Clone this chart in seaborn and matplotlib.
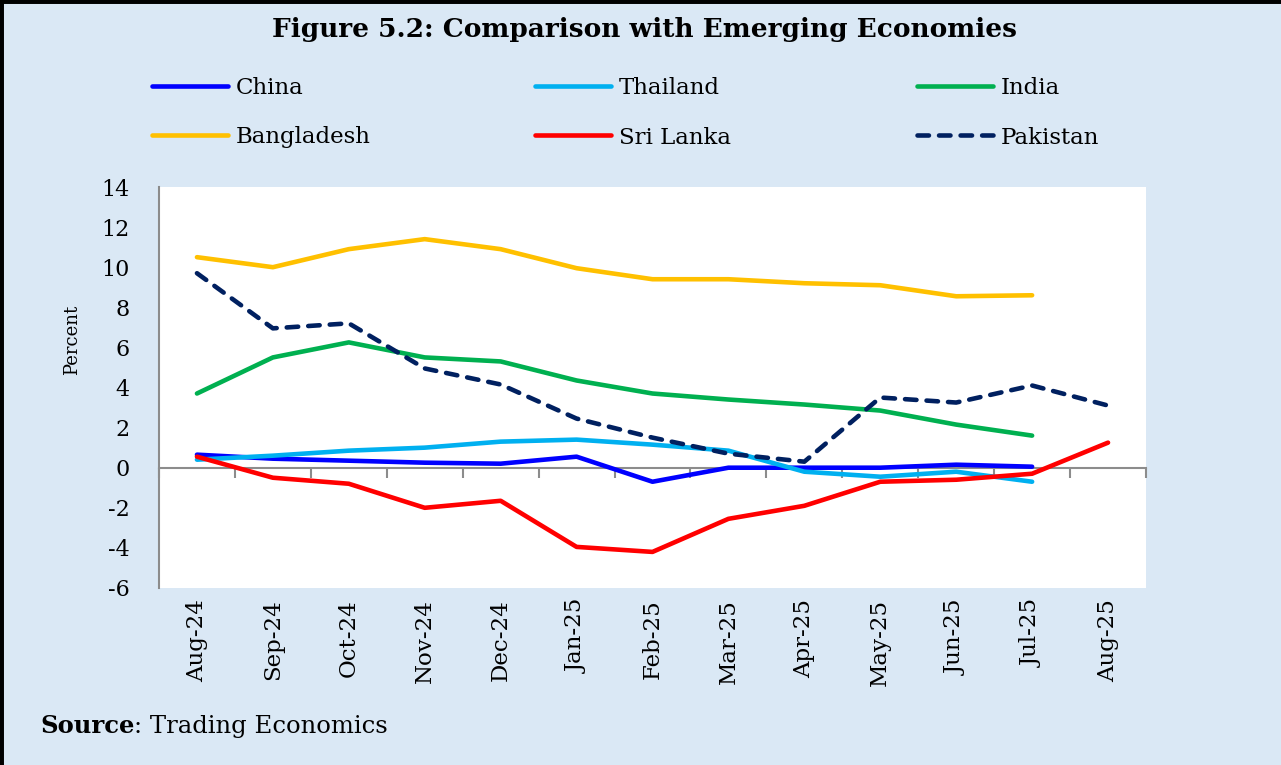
import numpy as np
import pandas as pd
import seaborn as sns
import matplotlib.pyplot as plt
from matplotlib.patches import Rectangle

sns.set_theme(style="white")
plt.rcParams['font.family'] = ['DejaVu Serif']
plt.rcParams['axes.unicode_minus'] = False
for key in ['text.color', 'axes.labelcolor', 'xtick.color', 'ytick.color']:
    plt.rcParams[key] = 'black'

# months on the category axis
months = ['Aug-24', 'Sep-24', 'Oct-24', 'Nov-24', 'Dec-24', 'Jan-25', 'Feb-25',
          'Mar-25', 'Apr-25', 'May-25', 'Jun-25', 'Jul-25', 'Aug-25']

# inflation, percent
china = [0.65, 0.45, 0.35, 0.25, 0.2, 0.55, -0.7, 0.0, 0.0, 0.0, 0.15, 0.05, np.nan]
thailand = [0.4, 0.6, 0.85, 1.0, 1.3, 1.4, 1.15, 0.85, -0.2, -0.45, -0.2, -0.7, np.nan]
india = [3.7, 5.5, 6.25, 5.5, 5.3, 4.35, 3.7, 3.4, 3.15, 2.85, 2.15, 1.6, np.nan]
bangladesh = [10.5, 10.0, 10.9, 11.4, 10.9, 9.95, 9.4, 9.4, 9.2, 9.1, 8.55, 8.6, np.nan]
sri_lanka = [0.55, -0.5, -0.8, -2.0, -1.65, -3.95, -4.2, -2.55, -1.9, -0.7, -0.6, -0.3, 1.25]
pakistan = [9.7, 6.95, 7.2, 4.95, 4.15, 2.45, 1.5, 0.7, 0.3, 3.5, 3.25, 4.1, 3.1]

series = {
    'China': (china, '#0000FF', '-'),
    'Thailand': (thailand, '#00B0F0', '-'),
    'India': (india, '#00B050', '-'),
    'Bangladesh': (bangladesh, '#FFC000', '-'),
    'Sri Lanka': (sri_lanka, '#FF0000', '-'),
    'Pakistan': (pakistan, '#002060', (0, (2.5, 2.2))),
}

bg = '#DAE8F5'
grey = '#8C8C8C'

fig = plt.figure(figsize=(12.81, 7.65), dpi=100)
fig.patch.set_facecolor(bg)
ax = fig.add_axes([159 / 1281, 1 - 588 / 765, (1146 - 159) / 1281, (588 - 187) / 765])
ax.set_facecolor('white')

x = np.arange(len(months))
lines = {}
for name, (vals, color, ls) in series.items():
    df = pd.DataFrame({'x': x, 'y': vals}).dropna()
    sns.lineplot(data=df, x='x', y='y', ax=ax, color=color, linewidth=3.3,
                 linestyle=ls, label=name, sort=False)
    ln = ax.lines[-1]
    ln.set_solid_capstyle('round')
    ln.set_dash_capstyle('round')
    lines[name] = ln
if ax.get_legend() is not None:
    ax.get_legend().remove()

ymin, ymax = -6, 14
ax.set_ylim(ymin, ymax)
ax.set_xlim(-0.5, len(months) - 0.5)
ax.set_yticks(np.arange(ymin, ymax + 1, 2))
ax.set_xticks(x)
ax.set_xticklabels(months, rotation=90)
ax.tick_params(axis='x', length=0, pad=8, labelsize=16.5)
ax.tick_params(axis='y', length=0, pad=21, labelsize=16)
for lab in ax.get_yticklabels():
    lab.set_horizontalalignment('right')
ax.set_xlabel('')
ax.set_ylabel('Percent', fontsize=13)
ax.yaxis.set_label_coords(-0.079, 0.618)

for s in ['top', 'right', 'bottom']:
    ax.spines[s].set_visible(False)
ax.spines['left'].set_color(grey)
ax.spines['left'].set_linewidth(1.5)

# zero line carrying the category ticks
zero_loc = (0 - ymin) / (ymax - ymin)
sec = ax.secondary_xaxis(zero_loc)
sec.set_xticks(np.arange(-0.5, len(months), 1.0))
sec.set_xticklabels([])
sec.tick_params(length=7, width=1.5, color=grey, direction='out')
sec.spines['bottom'].set_color(grey)
sec.spines['bottom'].set_linewidth(1.5)
sec.set_zorder(0)

# legend in three columns of two rows
cols = [['China', 'Bangladesh'], ['Thailand', 'Sri Lanka'], ['India', 'Pakistan']]
col_x = [152, 535, 917]
for names, cx in zip(cols, col_x):
    fig.legend([lines[n] for n in names], names, loc='upper left',
               bbox_to_anchor=(cx / 1281, 1 - 77 / 765), frameon=False,
               fontsize=16.5, handlelength=3.3, handletextpad=0.35,
               labelspacing=1.2, borderpad=0, borderaxespad=0)

fig.text(0.5035, 1 - 30 / 765, 'Figure 5.2: Comparison with Emerging Economies',
         ha='center', va='center', fontsize=19, fontweight='bold')

src = fig.text(40 / 1281, 1 - 733 / 765, 'Source', fontsize=17.5, fontweight='bold',
               ha='left', va='baseline')
fig.add_artist(plt.Annotation(': Trading Economics', xy=(1, 0), xycoords=src,
                              fontsize=17.5, va='bottom', ha='left'))

# black frame on left and top edges
fig.add_artist(Rectangle((0, -0.1), 1.2, 1.1, transform=fig.transFigure,
                         fill=False, edgecolor='black', linewidth=5))

fig.savefig('out.png', dpi=100, facecolor=fig.get_facecolor())
